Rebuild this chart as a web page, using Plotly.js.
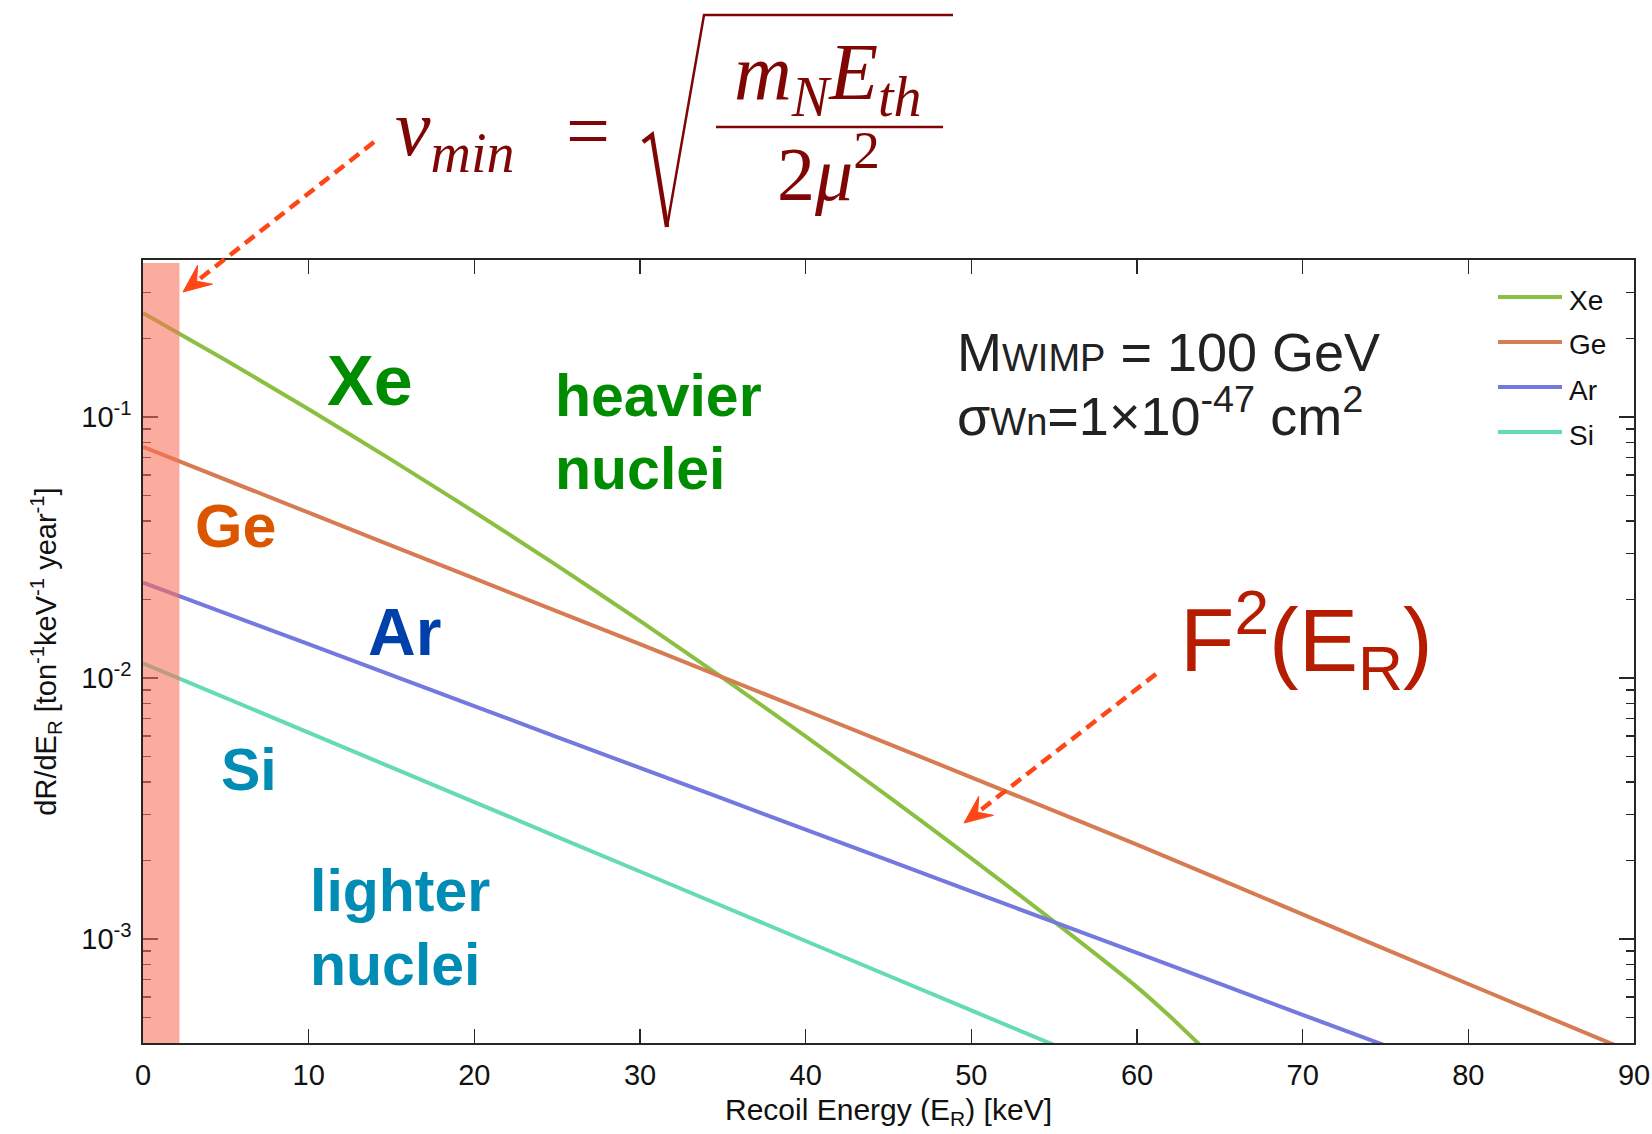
<!DOCTYPE html>
<html>
<head>
<meta charset="utf-8">
<script src="https://cdn.plot.ly/plotly-3.0.1.min.js"></script>
<style>
  html, body { margin: 0; padding: 0; background: #ffffff; }
  #chart { width: 1652px; height: 1134px; }
</style>
</head>
<body>
<div id="chart"></div>
<script>
// WIMP-nucleus differential recoil rates, M_WIMP = 100 GeV, sigma = 1e-47 cm^2
// Recoil energy (keV) and dR/dE_R (ton^-1 keV^-1 year^-1) for each target
const targets = ['Xe', 'Ge', 'Ar', 'Si'];

const energyXe = [0, 5, 10, 15, 20, 25, 30, 35, 40, 45, 50, 55, 60, 62, 64];
const rateXe   = [0.2506, 0.1651, 0.1072, 0.0686, 0.04333, 0.02697, 0.01656, 0.01002,
                  0.005976, 0.003516, 0.002040, 0.001167, 0.000655, 0.000505, 0.000382];

const energyGe = [0, 10, 20, 30, 40, 50, 60, 70, 80, 89];
const rateGe   = [0.0769, 0.04305, 0.02410, 0.01349, 0.007516, 0.004169, 0.002301,
                  0.001245, 0.000673, 0.000389];

const energyAr = [0, 10, 20, 30, 40, 50, 60, 70, 75];
const rateAr   = [0.02323, 0.01349, 0.007816, 0.004529, 0.002630, 0.001524, 0.000885,
                  0.000513, 0.000391];

const energySi = [0, 10, 20, 30, 40, 50, 55];
const rateSi   = [0.01140, 0.006180, 0.003350, 0.001816, 0.000984, 0.000533, 0.000393];

// Detector energy threshold (keV), shaded band
const thresholdKeV = 2.2;

// Axis ticks
const xTickVals = [0, 10, 20, 30, 40, 50, 60, 70, 80, 90];
const yTickVals = [0.001, 0.01, 0.1];
const yTickText = ['10<sup>-3</sup>', '10<sup>-2</sup>', '10<sup>-1</sup>'];

const seriesX = { Xe: energyXe, Ge: energyGe, Ar: energyAr, Si: energySi };
const seriesY = { Xe: rateXe, Ge: rateGe, Ar: rateAr, Si: rateSi };
const lineColors = {
  Xe: 'rgb(139,191,66)',
  Ge: 'rgb(214,124,82)',
  Ar: 'rgb(117,121,223)',
  Si: 'rgb(102,218,181)'
};

// ---- page geometry helpers (pixels -> paper fractions) ----
const W = 1652, H = 1134;
const M = { l: 143, r: 18, t: 260, b: 91 };
const PW = W - M.l - M.r, PH = H - M.t - M.b;
const fx = px => (px - M.l) / PW;
const fy = py => (H - M.b - py) / PH;

const SANS = 'Liberation Sans, Arial, Helvetica, sans-serif';
const SERIF = 'Liberation Serif, Times New Roman, DejaVu Serif, serif';

const traces = targets.map(t => ({
  type: 'scatter',
  mode: 'lines',
  name: t,
  x: seriesX[t],
  y: seriesY[t],
  line: { color: lineColors[t], width: 4, shape: 'spline', smoothing: 0.6 },
  hoverinfo: 'skip',
  showlegend: false
}));

const shapes = [];
const annotations = [];

// threshold band
shapes.push({
  type: 'rect', layer: 'above',
  xref: 'x', x0: 0, x1: thresholdKeV,
  yref: 'paper', y0: 0, y1: fy(263),
  fillcolor: 'rgb(250,112,88)', opacity: 0.58,
  line: { width: 0 }
});

// legend (line samples + names)
targets.forEach((t, i) => {
  const yy = 297 + 45 * i;
  shapes.push({
    type: 'line', xref: 'paper', yref: 'paper',
    x0: fx(1498), x1: fx(1562), y0: fy(yy), y1: fy(yy),
    line: { color: lineColors[t], width: 4 }
  });
  annotations.push({
    xref: 'paper', yref: 'paper', x: fx(1567), y: fy(yy + 3),
    xanchor: 'left', yanchor: 'middle', showarrow: false,
    text: t, font: { family: SANS, size: 28, color: '#111111' }
  });
});

// dashed pointer arrows
const ARROW = 'rgb(255,70,22)';
function dashedArrow(sx, sy, tx, ty) {
  const dx = sx - tx, dy = sy - ty;
  const len = Math.hypot(dx, dy);
  const ux = dx / len, uy = dy / len;   // from tip back to start
  const nx = -uy, ny = ux;
  const L = 28, Wd = 12, notch = 0.62 * L;
  shapes.push({
    type: 'line', xref: 'paper', yref: 'paper',
    x0: fx(sx), y0: fy(sy), x1: fx(tx + ux * notch), y1: fy(ty + uy * notch),
    line: { color: ARROW, width: 4.5, dash: '12px,7px' }
  });
  const pts = [
    [tx, ty],
    [tx + ux * L + nx * Wd, ty + uy * L + ny * Wd],
    [tx + ux * notch, ty + uy * notch],
    [tx + ux * L - nx * Wd, ty + uy * L - ny * Wd]
  ];
  shapes.push({
    type: 'path', xref: 'paper', yref: 'paper',
    path: 'M' + pts.map(p => fx(p[0]) + ',' + fy(p[1])).join(' L') + ' Z',
    fillcolor: ARROW, line: { color: ARROW, width: 1 }
  });
}
dashedArrow(374, 142, 183, 292);
dashedArrow(1156, 674, 964, 823);

// v_min formula
const FORM = 'rgb(128,6,6)';
function note(text, px, py, size, opts) {
  const o = opts || {};
  annotations.push({
    xref: 'paper', yref: 'paper', x: fx(px), y: fy(py),
    xanchor: o.anchor || 'left', yanchor: 'middle', showarrow: false,
    text: text,
    font: {
      family: o.family || SANS, size: size, color: o.color || '#222222',
      weight: o.weight || 'normal', style: o.style || 'normal'
    }
  });
}
note('v<sub>min</sub>', 393, 134, 80, { family: SERIF, style: 'italic', color: FORM });
note('=', 588, 131, 78, { family: SERIF, color: FORM, anchor: 'center' });
note('m<sub>N</sub>E<sub>th</sub>', 828, 78, 80, { family: SERIF, style: 'italic', color: FORM, anchor: 'center' });
note('2<i>μ</i><sup>2</sup>', 828, 168, 76, { family: SERIF, color: FORM, anchor: 'center' });

const pathOf = pts => 'M' + pts.map(p => fx(p[0]) + ',' + fy(p[1])).join(' L');
// radical sign and fraction bar
shapes.push({ type: 'path', xref: 'paper', yref: 'paper',
  path: pathOf([[643, 142], [652, 135], [667, 227]]),
  line: { color: FORM, width: 4.5 } });
shapes.push({ type: 'path', xref: 'paper', yref: 'paper',
  path: pathOf([[667, 227], [704, 15], [953, 15]]),
  line: { color: FORM, width: 2.5 } });
shapes.push({ type: 'line', xref: 'paper', yref: 'paper',
  x0: fx(716), x1: fx(943), y0: fy(127), y1: fy(127),
  line: { color: FORM, width: 2.5 } });

// target labels inside the plot
note('Xe', 325, 381, 70, { weight: 'bold', color: 'rgb(0,140,0)' });
note('heavier', 553, 396, 59, { weight: 'bold', color: 'rgb(0,140,0)' });
note('nuclei', 553, 469, 59, { weight: 'bold', color: 'rgb(0,140,0)' });
note('Ge', 193, 526, 61, { weight: 'bold', color: 'rgb(220,86,0)' });
note('Ar', 366, 632, 66, { weight: 'bold', color: 'rgb(0,64,170)' });
note('Si', 219, 770, 59, { weight: 'bold', color: 'rgb(0,140,180)' });
note('lighter', 308, 891, 59, { weight: 'bold', color: 'rgb(0,140,180)' });
note('nuclei', 308, 965, 59, { weight: 'bold', color: 'rgb(0,140,180)' });

// benchmark parameters
note('M<span style="font-size:38px">WIMP</span> = 100 GeV', 955, 352, 54, { color: '#222222' });
note('σ<span style="font-size:38px">Wn</span>=1×10<sup>-47</sup> cm<sup>2</sup>', 955, 412, 54, { color: '#222222' });

// form factor label
note('F<sup>2</sup>(E<sub>R</sub>)', 1178, 640, 89, { color: 'rgb(182,28,0)' });

const axisCommon = {
  showline: true, linecolor: '#262626', linewidth: 1.6, mirror: 'ticks',
  ticks: 'inside', tickcolor: '#262626', tickwidth: 1.4,
  showgrid: false, zeroline: false,
  tickfont: { family: SANS, size: 29, color: '#111111' }
};

const layout = {
  width: W, height: H,
  margin: M,
  paper_bgcolor: '#ffffff', plot_bgcolor: '#ffffff',
  showlegend: false,
  xaxis: Object.assign({}, axisCommon, {
    range: [0, 90], tickvals: xTickVals, ticklen: 14, ticklabelstandoff: 6,
    title: { text: 'Recoil Energy (E<sub>R</sub>) [keV]', standoff: 8,
             font: { family: SANS, size: 30, color: '#111111' } }
  }),
  yaxis: Object.assign({}, axisCommon, {
    type: 'log', range: [Math.log10(4e-4), Math.log10(0.4)],
    tickvals: yTickVals, ticktext: yTickText, ticklen: 15, ticklabelstandoff: 4,
    minor: { ticks: 'inside', ticklen: 8, tickcolor: '#262626', tickwidth: 1.2, dtick: 'D1', showgrid: false },
    title: { text: 'dR/dE<sub>R</sub> [ton<sup>-1</sup>keV<sup>-1</sup> year<sup>-1</sup>]', standoff: 16,
             font: { family: SANS, size: 29, color: '#111111' } }
  }),
  shapes: shapes,
  annotations: annotations
};

Plotly.newPlot('chart', traces, layout, { staticPlot: true, displayModeBar: false });
</script>
</body>
</html>
